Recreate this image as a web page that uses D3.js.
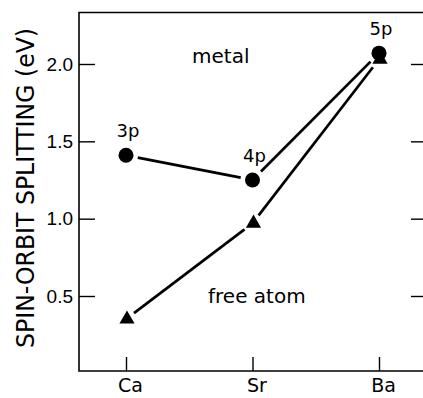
<!DOCTYPE html>
<html>
<head>
<meta charset="utf-8">
<script src="https://cdn.jsdelivr.net/npm/d3@7"></script>
<style>
  html, body { margin: 0; padding: 0; background: #fff; }
  svg { display: block; }
</style>
</head>
<body>
<script>
// Data
const elements = ["Ca", "Sr", "Ba"];
const shells = ["3p", "4p", "5p"];
const metal = [1.41, 1.25, 2.07];
const freeAtom = [0.35, 0.97, 2.03];
const yTicks = [0.5, 1.0, 1.5, 2.0];

const width = 423, height = 398;
const plotLeft = 79, plotTop = 12.5, plotBottom = 371, plotRight = 425;

const svg = d3.select("body")
  .append("svg")
  .attr("width", width)
  .attr("height", height);

const x = d3.scalePoint()
  .domain(elements)
  .range([126, 379]);

const y = d3.scaleLinear()
  .domain([0.5, 2.0])
  .range([296, 64]);

// Frame
svg.append("path")
  .attr("d", `M${plotRight},${plotTop}H${plotLeft}V${plotBottom}H${plotRight}`)
  .attr("fill", "none")
  .attr("stroke", "#000")
  .attr("stroke-width", 1.6);

// Left axis, ticks pointing inward
const yAxis = svg.append("g")
  .attr("transform", `translate(${plotLeft},0)`)
  .call(d3.axisLeft(y).tickValues(yTicks).tickSize(-16).tickPadding(6).tickFormat(d3.format(".1f")));
yAxis.select(".domain").remove();
yAxis.selectAll("line").attr("stroke-width", 1.4);
yAxis.selectAll("text")
  .attr("font-family", "Liberation Sans, sans-serif")
  .attr("font-size", 19)
  .attr("fill", "#000");

// Right axis, ticks only
const yAxisR = svg.append("g")
  .attr("transform", `translate(${plotRight},0)`)
  .call(d3.axisLeft(y).tickValues(yTicks).tickSize(14).tickFormat(""));
yAxisR.select(".domain").remove();
yAxisR.selectAll("line").attr("stroke-width", 1.4);

// Bottom axis
const xAxis = svg.append("g")
  .attr("transform", `translate(0,${plotBottom})`)
  .call(d3.axisBottom(x).tickSize(-14).tickPadding(8));
xAxis.select(".domain").remove();
xAxis.selectAll("line").attr("stroke-width", 1.4);
xAxis.selectAll("text")
  .attr("font-family", "DejaVu Sans, sans-serif")
  .attr("font-size", 19)
  .attr("dx", 4)
  .attr("fill", "#000");

// Y title
svg.append("text")
  .attr("transform", `translate(34,${188}) rotate(-90)`)
  .attr("text-anchor", "middle")
  .attr("font-family", "DejaVu Sans, sans-serif")
  .attr("font-size", 25)
  .attr("textLength", 320)
  .attr("lengthAdjust", "spacingAndGlyphs")
  .text("SPIN-ORBIT SPLITTING (eV)");

// Connecting segments with a gap at each marker
function gapped(values, gap) {
  const pts = values.map((v, i) => [x(elements[i]), y(v)]);
  return d3.pairs(pts).map(([a, b]) => {
    const dx = b[0] - a[0], dy = b[1] - a[1];
    const len = Math.hypot(dx, dy);
    const ux = dx / len, uy = dy / len;
    return [[a[0] + ux * gap, a[1] + uy * gap], [b[0] - ux * gap, b[1] - uy * gap]];
  });
}

const line = d3.line();
svg.append("g")
  .selectAll("path")
  .data(gapped(metal, 12).concat(gapped(freeAtom, 10)))
  .join("path")
  .attr("d", line)
  .attr("fill", "none")
  .attr("stroke", "#000")
  .attr("stroke-width", 2.7);

// Metal points
svg.append("g")
  .selectAll("circle")
  .data(metal)
  .join("circle")
  .attr("cx", (d, i) => x(elements[i]))
  .attr("cy", d => y(d))
  .attr("r", 7.5)
  .attr("fill", "#000");

// Free atom points
svg.append("g")
  .selectAll("path")
  .data(freeAtom)
  .join("path")
  .attr("transform", (d, i) => `translate(${x(elements[i]) + 1},${y(d)})`)
  .attr("d", d3.symbol(d3.symbolTriangle, 100))
  .attr("fill", "#000");

// Shell labels
svg.append("g")
  .selectAll("text")
  .data(metal)
  .join("text")
  .attr("x", (d, i) => x(elements[i]) + 2)
  .attr("y", d => y(d) - 18)
  .attr("text-anchor", "middle")
  .attr("font-family", "DejaVu Sans, sans-serif")
  .attr("font-size", 18)
  .text((d, i) => shells[i]);

// Series labels
svg.append("text")
  .attr("x", 192)
  .attr("y", 63)
  .attr("font-family", "DejaVu Sans, sans-serif")
  .attr("font-size", 20)
  .text("metal");

svg.append("text")
  .attr("x", 208)
  .attr("y", 303)
  .attr("font-family", "DejaVu Sans, sans-serif")
  .attr("font-size", 20)
  .text("free atom");
</script>
</body>
</html>
